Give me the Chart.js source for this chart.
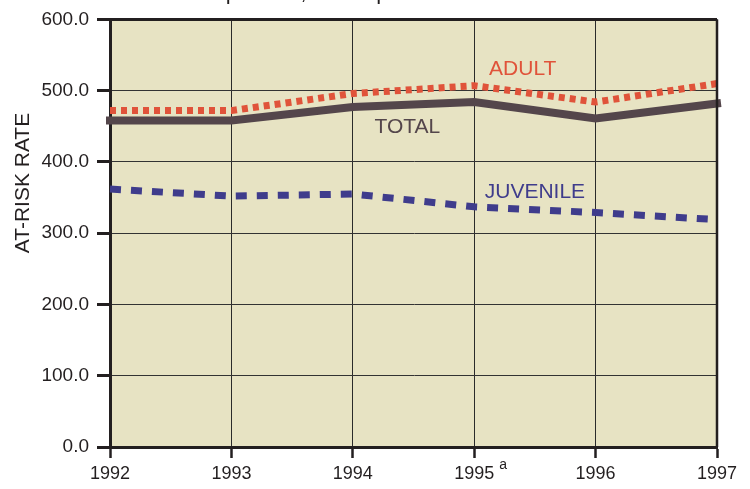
<!DOCTYPE html>
<html>
<head>
<meta charset="utf-8">
<script src="https://cdn.jsdelivr.net/npm/chart.js@4"></script>
<style>
  html, body { margin: 0; padding: 0; background: #fff; }
  #wrap { width: 750px; height: 489px; position: relative; }
</style>
</head>
<body>
<div id="wrap"><canvas id="rateChart"></canvas></div>
<script>
// chart data
const years = ['1992', '1993', '1994', '1995', '1996', '1997'];
const totalRate = [458, 458, 477, 484, 461, 482];
const adultRate = [472, 472, 496, 507, 484, 510];
const juvenileRate = [362, 352, 355, 337, 329, 319];
const yTicks = [0, 100, 200, 300, 400, 500, 600];

const inkColor = '#231f20';
const plotFill = '#e7e3c3';

// series labels placed in data units (x index, y value)
const seriesLabels = [
    { text: 'ADULT', x: 3.4, y: 530, color: '#e0533a' },
    { text: 'TOTAL', x: 2.45, y: 449, color: '#54464b' },
    { text: 'JUVENILE', x: 3.5, y: 358, color: '#3f3c8c' }
];

/**
 * Background, frame and text annotations
 */
const decorPlugin = {
    id: 'decor',
    beforeDraw(chart) {
        const { ctx, chartArea: a } = chart;
        ctx.save();
        ctx.fillStyle = plotFill;
        ctx.fillRect(a.left, a.top, a.right - a.left, a.bottom - a.top);
        ctx.restore();
    },
    afterDraw(chart) {
        const { ctx, chartArea: a, scales } = chart;
        ctx.save();
        // top and right frame
        ctx.strokeStyle = inkColor;
        ctx.lineWidth = 3;
        ctx.beginPath();
        ctx.moveTo(a.left, a.top);
        ctx.lineTo(a.right, a.top);
        ctx.stroke();
        ctx.lineWidth = 2.5;
        ctx.beginPath();
        ctx.moveTo(a.right, a.top);
        ctx.lineTo(a.right, a.bottom);
        ctx.stroke();

        // cropped title at the very top
        ctx.fillStyle = inkColor;
        ctx.font = '22px "Liberation Sans", Arial, sans-serif';
        ctx.textAlign = 'center';
        ctx.textBaseline = 'alphabetic';
        ctx.fillText('Rate per 100,000 Population at Risk', 350, -1);

        // y-axis title
        ctx.save();
        ctx.translate(23, 183);
        ctx.rotate(-Math.PI / 2);
        ctx.textBaseline = 'middle';
        ctx.font = '21px "Liberation Sans", Arial, sans-serif';
        ctx.fillText('AT-RISK RATE', 0, 0);
        ctx.restore();

        // footnote marker on 1995
        ctx.font = '14px "Liberation Sans", Arial, sans-serif';
        ctx.textAlign = 'left';
        ctx.fillText('a', scales.x.getPixelForValue(3) + 25, 469);

        // series labels
        ctx.font = '21px "Liberation Sans", Arial, sans-serif';
        ctx.textAlign = 'center';
        ctx.textBaseline = 'middle';
        seriesLabels.forEach(function(l) {
            ctx.fillStyle = l.color;
            ctx.fillText(l.text, scales.x.getPixelForValue(l.x), scales.y.getPixelForValue(l.y));
        });
        ctx.restore();
    }
};

new Chart(document.getElementById('rateChart').getContext('2d'), {
    type: 'line',
    data: {
        labels: years,
        datasets: [
            {
                label: 'Juvenile',
                data: juvenileRate,
                borderColor: '#3f3c8c',
                borderWidth: 7,
                borderDash: [11, 10],
                borderCapStyle: 'butt',
                pointRadius: 0,
                tension: 0,
                clip: false
            },
            {
                label: 'Total',
                data: totalRate,
                borderColor: '#54464b',
                borderWidth: 8,
                borderCapStyle: 'square',
                pointRadius: 0,
                tension: 0,
                clip: false
            },
            {
                label: 'Adult',
                data: adultRate,
                borderColor: '#e0533a',
                borderWidth: 7,
                borderDash: [6, 5],
                borderCapStyle: 'butt',
                pointRadius: 0,
                tension: 0,
                clip: false
            }
        ]
    },
    options: {
        responsive: true,
        maintainAspectRatio: false,
        animation: false,
        events: [],
        layout: {
            padding: { top: 17, right: 33, left: 0, bottom: 0 }
        },
        plugins: {
            legend: { display: false },
            tooltip: { enabled: false },
            title: { display: false }
        },
        scales: {
            x: {
                type: 'category',
                offset: false,
                grid: {
                    offset: false,
                    color: '#2b2b2b',
                    lineWidth: 1,
                    tickLength: 11,
                    tickColor: inkColor,
                    tickWidth: 2.5
                },
                border: { color: inkColor, width: 3 },
                ticks: {
                    color: inkColor,
                    padding: 5,
                    maxRotation: 0,
                    font: { family: '"Liberation Sans", Arial, sans-serif', size: 18 }
                },
                afterFit(scale) { scale.height = 42; }
            },
            y: {
                min: 0,
                max: 600,
                afterBuildTicks(scale) {
                    scale.ticks = yTicks.map(v => ({ value: v }));
                },
                grid: {
                    color: '#333',
                    lineWidth: 1,
                    tickLength: 13,
                    tickColor: inkColor,
                    tickWidth: 3
                },
                border: { color: inkColor, width: 3 },
                ticks: {
                    color: inkColor,
                    padding: 8,
                    font: { family: '"Liberation Sans", Arial, sans-serif', size: 19 },
                    callback: function(value) {
                        return Number(value).toFixed(1);
                    }
                },
                afterFit(scale) { scale.width = 110; }
            }
        }
    },
    plugins: [decorPlugin]
});
</script>
</body>
</html>
